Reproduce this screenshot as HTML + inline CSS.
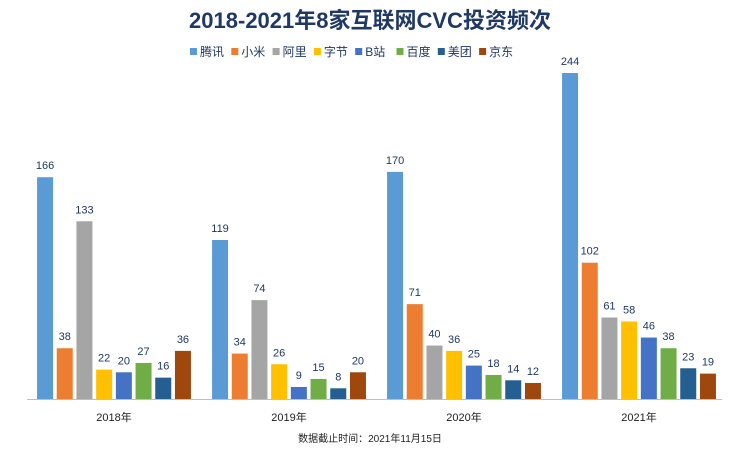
<!DOCTYPE html>
<html><head><meta charset="utf-8"><style>
body{margin:0;background:#fff;}
svg{display:block;font-family:"Liberation Sans","Noto Sans CJK SC",sans-serif;}
</style></head><body>
<svg id="chart" width="741" height="454">
<text x="370" y="28" text-anchor="middle" font-size="22" font-weight="bold" fill="#1F3864">2018-2021年8家互联网CVC投资频次</text>
<g id="legend"></g>
<g id="bars"></g>
<line x1="27" y1="399.5" x2="722" y2="399.5" stroke="#BFBFBF"/>
<g id="xlabels"></g>
<text x="370" y="442" text-anchor="middle" font-size="10" fill="#1F1F1F">数据截止时间：2021年11月15日</text>
</svg>
<script>
const years=["2018年","2019年","2020年","2021年"];
const companies=["腾讯","小米","阿里","字节","B站","百度","美团","京东"];
const colors=["#5B9BD5","#ED7D31","#A5A5A5","#FFC000","#4472C4","#70AD47","#255E91","#9E480E"];
const s2018=[166,38,133,22,20,27,16,36];
const s2019=[119,34,74,26,9,15,8,20];
const s2020=[170,71,40,36,25,18,14,12];
const s2021=[244,102,61,58,46,38,23,19];
const series=[s2018,s2019,s2020,s2021];
const NS="http://www.w3.org/2000/svg";
const base=399, scale=326/244;
const yPos=v=>base-v*scale;
const groupX=g=>114+g*175;
const barX=(g,i)=>groupX(g)+(i-3.5)*19.7-8;
const bars=document.getElementById('bars');
series.forEach((vals,g)=>{
 vals.forEach((v,i)=>{
  const r=document.createElementNS(NS,'rect');
  r.setAttribute('x',barX(g,i));r.setAttribute('y',yPos(v));
  r.setAttribute('width',16);r.setAttribute('height',base-yPos(v));
  r.setAttribute('fill',colors[i]);
  
  
  bars.appendChild(r);
  const t=document.createElementNS(NS,'text');
  t.setAttribute('x',barX(g,i)+8);t.setAttribute('y',yPos(v)-8);
  t.setAttribute('text-anchor','middle');t.setAttribute('font-size','11');t.setAttribute('fill','#1F3864');
  t.textContent=v;
  
  
  bars.appendChild(t);
 });
 const l=document.createElementNS(NS,'text');
 l.setAttribute('x',groupX(g));l.setAttribute('y',421);l.setAttribute('text-anchor','middle');
 l.setAttribute('font-size','11');l.setAttribute('fill','#1F1F1F');l.textContent=years[g];
 
 
 document.getElementById('xlabels').appendChild(l);
});
const lg=document.getElementById('legend');
companies.forEach((c,i)=>{
 const x=193+i*41.3;
 const r=document.createElementNS(NS,'rect');
 r.setAttribute('x',x-3);r.setAttribute('y',48);r.setAttribute('width',7);r.setAttribute('height',7);r.setAttribute('fill',colors[i]);
 
 
 lg.appendChild(r);
 const t=document.createElementNS(NS,'text');
 t.setAttribute('x',x+7);t.setAttribute('y',56);t.setAttribute('font-size','12');t.setAttribute('fill','#1F3864');
 t.textContent=c;
 
 
 lg.appendChild(t);
});
</script>
</body></html>
